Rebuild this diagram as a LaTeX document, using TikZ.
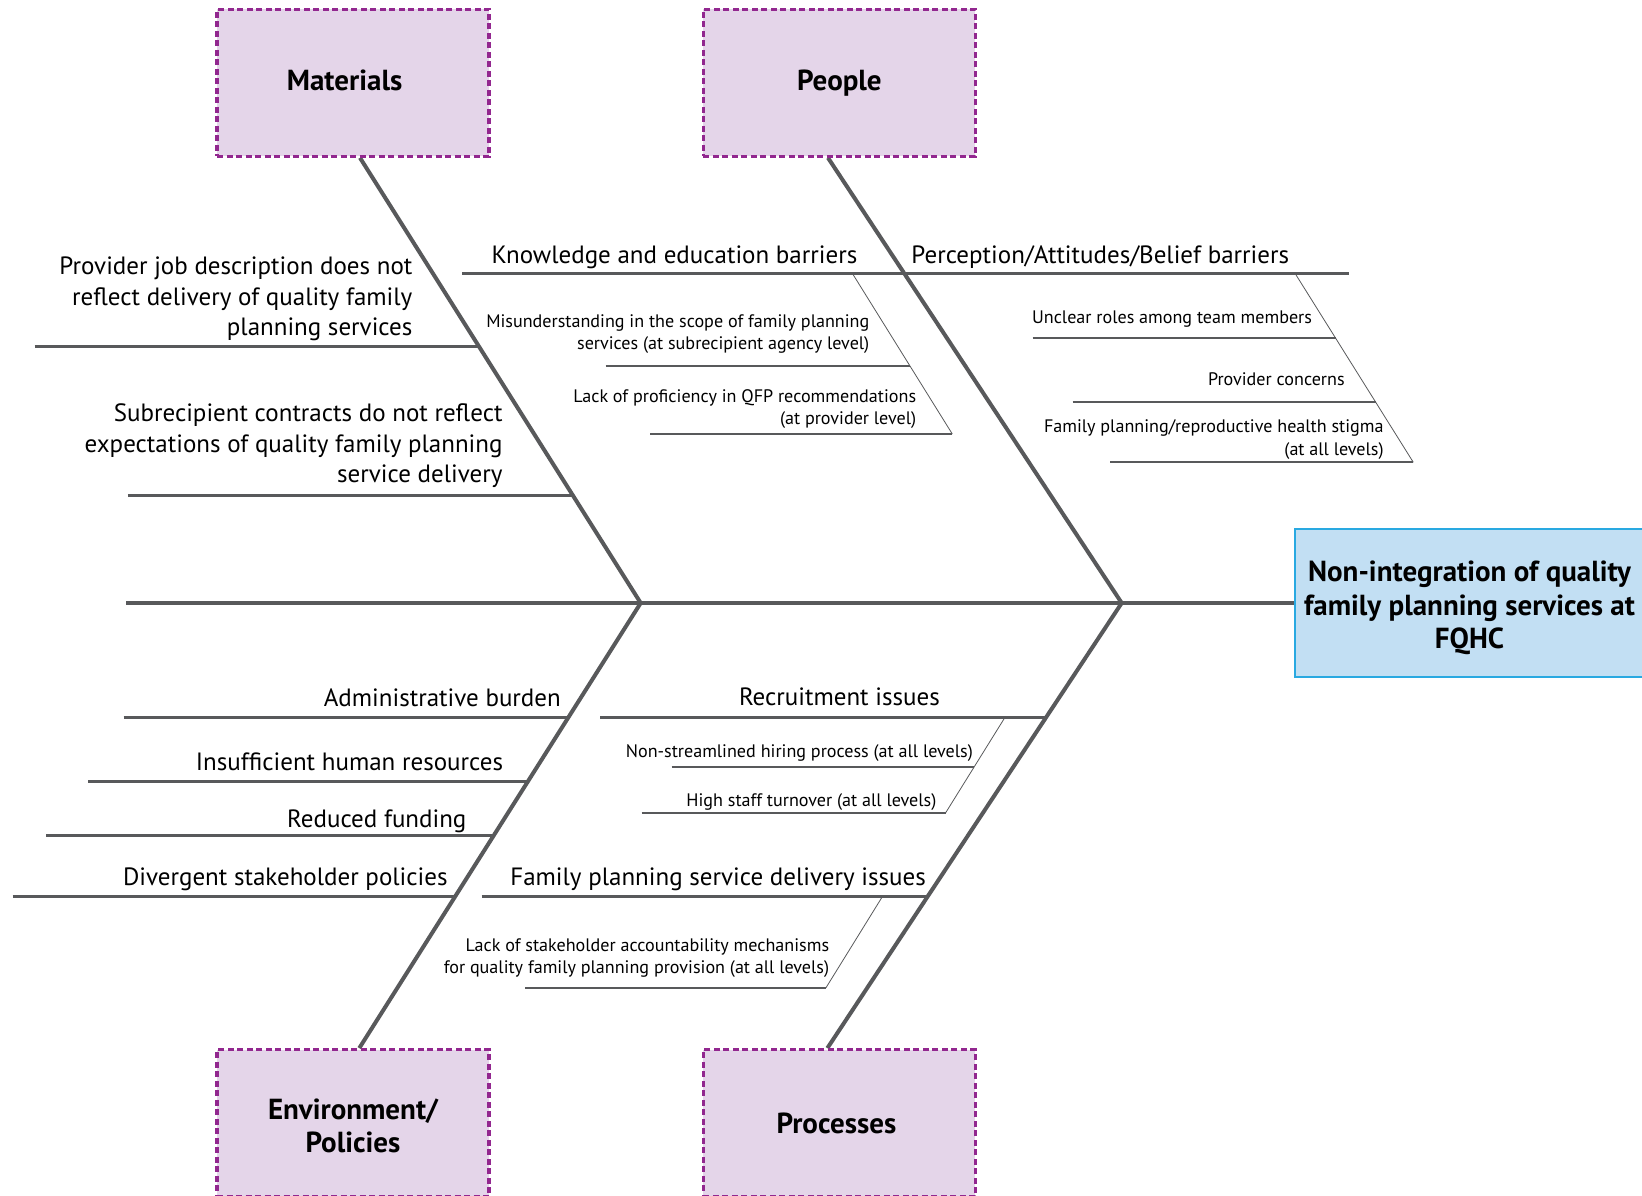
\documentclass[tikz,border=0pt]{standalone}
\usepackage{fontspec}
\setmainfont{PT Sans}
\definecolor{linegray}{HTML}{58595B}
\definecolor{catfill}{HTML}{E4D5E9}
\definecolor{catborder}{HTML}{92278F}
\definecolor{headfill}{HTML}{C2DFF3}
\definecolor{headborder}{HTML}{29A9E1}
\begin{document}
\begin{tikzpicture}[x=1pt,y=-1pt,
  catbox/.style={draw=catborder, fill=catfill, line width=3.2pt, dash pattern=on 6pt off 3.5pt,
    minimum width=272pt, minimum height=147pt, inner sep=0pt, align=center,
    font=\fontsize{29}{33.5}\selectfont\bfseries},
  headbox/.style={draw=headborder, fill=headfill, line width=2.5pt, minimum width=349pt,
    minimum height=148pt, inner sep=0pt, align=center, font=\fontsize{29}{33.5}\selectfont\bfseries},
  bone/.style={draw=linegray, line width=4pt},
  branch/.style={draw=linegray, line width=2.7pt},
  subbone/.style={draw=linegray, line width=0.8pt},
  subbranch/.style={draw=linegray, line width=1.8pt},
  bigtxt/.style={font=\fontsize{25}{30.6}\selectfont, align=right, inner sep=0pt, anchor=base east},
  smalltxt/.style={font=\fontsize{18.1}{22.2}\selectfont, align=right, inner sep=0pt, anchor=base east},
]
\useasboundingbox (0,0) rectangle (1642,1196);

% junctions and spine
\coordinate (jm) at (640.7,603);
\coordinate (jp) at (1121.7,603);
\coordinate (tail) at (126,603);
\node[headbox] (head) at (1469.5,603) {\rule{0pt}{31pt}Non-integration of quality\\family planning services at\\FQHC};
\draw[bone, line width=4.3pt] (tail) -- (head.west);

% category boxes
\node[catbox] (mat) at (353,82.7) {\raisebox{6pt}{Materials}\hspace*{16.8pt}};
\node[catbox] (peo) at (839.4,82.7) {People};
\node[catbox] (env) at (353,1123.2) {\rule{0pt}{26pt}Environment/\\Policies};
\node[catbox] (pro) at (839.4,1123.2) {\raisebox{-7pt}{Processes}\hspace*{6pt}};

% bones
\draw[bone] ([xshift=7pt]mat.south) -- (jm);
\draw[bone] ([xshift=-11.4pt]peo.south) -- (jp);
\draw[bone] (jm) -- ([xshift=6.3pt]env.north);
\draw[bone] (jp) -- ([xshift=-12pt]pro.north);
% boxes again over the bone ends
\node[catbox] at (mat) {\raisebox{6pt}{Materials}\hspace*{16.8pt}};
\node[catbox] at (peo) {People};
\node[catbox] at (env) {\rule{0pt}{26pt}Environment/\\Policies};
\node[catbox] at (pro) {\raisebox{-7pt}{Processes}\hspace*{6pt}};

% ---------- Materials branches ----------
\coordinate (m1s) at (34.6,346.6);  \coordinate (m1e) at (479.3,346.6);
\coordinate (m2s) at (127.8,495.3); \coordinate (m2e) at (572.9,495.3);
\draw[branch] (m1s) -- (m1e);
\draw[branch] (m2s) -- (m2e);
\node[bigtxt] (m1t) at (412.6,335.6) {Provider job description does not\\reflect delivery of quality family\\planning services};
\node[bigtxt] (m2t) at (502.7,482.7) {Subrecipient contracts do not reflect\\expectations of quality family planning\\service delivery};

% ---------- People branches ----------
\coordinate (kns) at (462,273.3); \coordinate (kne) at (904.6,273.3);
\coordinate (pee) at (1349,273.3);
\draw[branch] (kns) -- (kne);
\draw[branch] (kne) -- (pee);
\node[bigtxt] (knt) at (857.5,263.3) {Knowledge and education barriers};
\node[bigtxt] (pet) at (1289.3,263.3) {Perception/Attitudes/Belief barriers};

% knowledge sub-bone
\coordinate (kb1) at (852.3,273.3); \coordinate (kb2) at (952.3,434);
\coordinate (k1s) at (605.7,366);   \coordinate (k1e) at (909.5,366);
\coordinate (k2s) at (650,434);
\draw[subbone] (kb1) -- (kb2);
\draw[subbranch] (k1s) -- (k1e);
\draw[subbranch] (k2s) -- (kb2);
\node[smalltxt] (k1t) at (869.5,349.6) {Misunderstanding in the scope of family planning\\services (at subrecipient agency level)};
\node[smalltxt] (k2t) at (916.3,424.6) {Lack of proficiency in QFP recommendations\\(at provider level)};

% perception sub-bone
\coordinate (pb1) at (1295,273.3); \coordinate (pb2) at (1413.3,462.3);
\coordinate (p1s) at (1032.7,338.3); \coordinate (p1e) at (1335.7,338.3);
\coordinate (p2s) at (1072.7,402);   \coordinate (p2e) at (1375.6,402);
\coordinate (p3s) at (1110,462.3);
\draw[subbone] (pb1) -- (pb2);
\draw[subbranch] (p1s) -- (p1e);
\draw[subbranch] (p2s) -- (p2e);
\draw[subbranch] (p3s) -- (pb2);
\node[smalltxt] (p1t) at (1312.2,323.3) {Unclear roles among team members};
\node[smalltxt] (p2t) at (1344.8,385) {Provider concerns};
\node[smalltxt] (p3t) at (1383.8,455) {Family planning/reproductive health stigma\\(at all levels)};

% ---------- Environment branches ----------
\coordinate (e1s) at (123.6,717.3); \coordinate (e1e) at (568.7,717.3);
\coordinate (e2s) at (88,781.2);    \coordinate (e2e) at (528.5,781.2);
\coordinate (e3s) at (46,835.7);    \coordinate (e3e) at (494.2,835.7);
\coordinate (e4s) at (12.6,896.4);  \coordinate (e4e) at (456,896.4);
\draw[branch] (e1s) -- (e1e);
\draw[branch] (e2s) -- (e2e);
\draw[branch] (e3s) -- (e3e);
\draw[branch] (e4s) -- (e4e);
\node[bigtxt] (e1t) at (561,706) {Administrative burden};
\node[bigtxt] (e2t) at (503.3,770) {Insufficient human resources};
\node[bigtxt] (e3t) at (466.6,827.8) {Reduced funding};
\node[bigtxt] (e4t) at (447.8,885.4) {Divergent stakeholder policies};

% ---------- Processes branches ----------
\coordinate (rs) at (600,717.3); \coordinate (re) at (1046.4,717.3);
\draw[branch] (rs) -- (re);
\node[bigtxt] (rt) at (940,705) {Recruitment issues};
\coordinate (rb1) at (1005,717.3); \coordinate (rb2) at (945.7,812.7);
\coordinate (r1s) at (671.7,766.7); \coordinate (r1e) at (974.3,766.7);
\coordinate (r2s) at (641.7,812.7);
\draw[subbone] (rb1) -- (rb2);
\draw[subbranch] (r1s) -- (r1e);
\draw[subbranch] (r2s) -- (rb2);
\node[smalltxt] (r1t) at (973,757) {Non-streamlined hiring process (at all levels)};
\node[smalltxt] (r2t) at (936.5,806.9) {High staff turnover (at all levels)};

\coordinate (fs) at (481.7,896.4); \coordinate (fe) at (928.5,896.4);
\draw[branch] (fs) -- (fe);
\node[bigtxt] (ft) at (926,885) {Family planning service delivery issues};
\coordinate (fb1) at (882.5,896.4); \coordinate (fb2) at (826,987.7);
\coordinate (f1s) at (525,987.7);
\draw[subbone] (fb1) -- (fb2);
\draw[subbranch] (f1s) -- (fb2);
\node[smalltxt] (f1t) at (829.3,973.3) {Lack of stakeholder accountability mechanisms\\for quality family planning provision (at all levels)};
\end{tikzpicture}
\end{document}
